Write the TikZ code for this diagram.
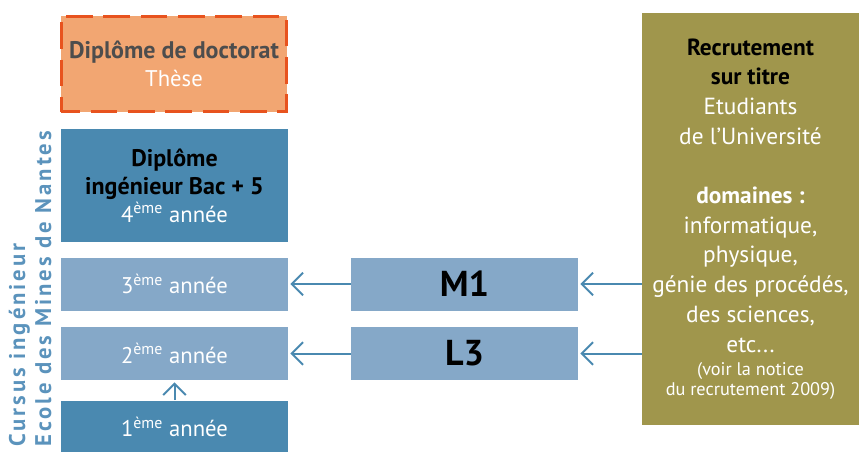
\documentclass[tikz,border=0pt]{standalone}
\usepackage{fontspec}
\setmainfont{PT Sans}
\usetikzlibrary{arrows.meta}

\definecolor{orangefond}{HTML}{F2A672}
\definecolor{orangebord}{HTML}{E8531E}
\definecolor{grisfonce}{HTML}{4D4D4D}
\definecolor{bleufonce}{HTML}{4A89B0}
\definecolor{bleuclair}{HTML}{85A8C8}
\definecolor{bleutexte}{HTML}{5B93BC}
\definecolor{olive}{HTML}{A0964C}

\newcommand{\petit}{\fontsize{13.7}{15}\selectfont}
\newcommand{\gras}[1]{{\fontsize{18}{21}\selectfont\bfseries #1}}

\tikzset{
  boite/.style={rectangle, inner sep=0pt, align=center, minimum width=170.25pt,
    font=\fontsize{17}{21}\selectfont},
  annee/.style={boite, fill=bleuclair, minimum height=39.75pt, text=white},
  fleche/.style={draw=bleufonce, line width=1.5pt,
    -{Straight Barb[length=8.5pt,width=17pt,line width=1.5pt]}, shorten >=1.5pt},
}

\begin{document}
\begin{tikzpicture}[x=0.75pt, y=-0.75pt]
  \useasboundingbox (0,0) rectangle (859,452);
  \clip (0,0) rectangle (859,452);

  \node[boite, fill=orangefond, draw=orangebord, line width=2pt,
        dash pattern=on 20pt off 8pt, dash phase=6pt,
        minimum width=169pt, minimum height=71.5pt] (doctorat) at (174,64)
    {\textcolor{grisfonce}{\gras{Diplôme de doctorat}}\\ \textcolor{white}{Thèse}};
  \node[boite, fill=bleufonce, minimum height=84.75pt] (ingenieur) at (174.5,185.5)
    {\gras{Diplôme}\\ \gras{ingénieur Bac + 5}\\ \textcolor{white}{4\textsuperscript{ème} année}};

  \node[annee] (annee3) at (174.5,284) {3\textsuperscript{ème} année};
  \node[annee] (annee2) at (174.5,353.5) {2\textsuperscript{ème} année};
  \node[annee, fill=bleufonce] (annee1) at (174.5,427) {1\textsuperscript{ème} année};

  \node[annee, text=black, font=\bfseries\fontsize{27}{30}\selectfont] (m1) at (464.5,284) {M1};
  \node[annee, text=black, font=\bfseries\fontsize{27}{30}\selectfont] (l3) at (464.5,353.5) {L3};

  \node[boite, fill=olive, text=white, minimum width=162.75pt, minimum height=309pt,
        font=\fontsize{17.5}{22.3}\selectfont] (recrutement) at (750.5,219)
    {\textcolor{black}{\textbf{Recrutement}}\\ \textcolor{black}{\textbf{sur titre}}\\
     Etudiants\\ de l’Université\\[22pt]
     \textbf{domaines :}\\ informatique,\\ physique,\\ génie des procédés,\\
     des sciences,\\ etc...\\[-5pt]
     \petit (voir la notice\\[-7pt] \petit du recrutement 2009)};

  \node[rotate=90, anchor=west, inner sep=0pt, align=left, text=bleutexte,
        font=\bfseries\fontsize{17}{19.5}\selectfont\addfontfeatures{LetterSpace=13}] (cursus) at (30,447)
    {Cursus ingénieur\\ Ecole des Mines de Nantes};

  \draw[fleche] (m1) -- (annee3);
  \draw[fleche] (l3) -- (annee2);
  \draw[fleche] (recrutement.west |- m1) -- (m1);
  \draw[fleche] (recrutement.west |- l3) -- (l3);
  \draw[fleche] (annee1) -- (annee2);
\end{tikzpicture}
\end{document}
